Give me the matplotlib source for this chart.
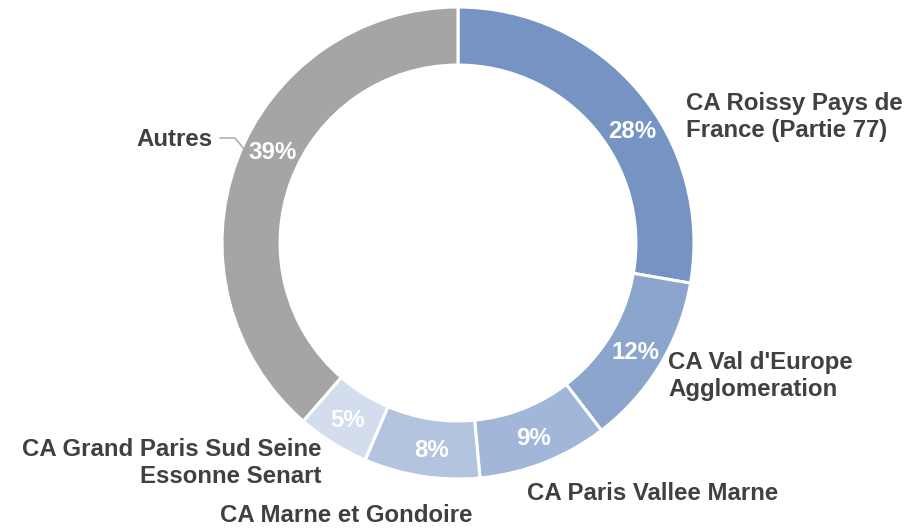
import matplotlib
matplotlib.use("Agg")
import matplotlib.pyplot as plt
import numpy as np

categories = ["CA Roissy Pays de\nFrance (Partie 77)", "CA Val d'Europe\nAgglomeration",
              "CA Paris Vallee Marne", "CA Marne et Gondoire",
              "CA Grand Paris Sud Seine\nEssonne Senart", "Autres"]
values = [28, 12, 9, 8, 5, 39]
pct_labels = ["28%", "12%", "9%", "8%", "5%", "39%"]
colors = ["#7694C3", "#8BA5CC", "#A1B6D8", "#B3C4DF", "#D3DDEE", "#A5A5A5"]

plt.rcParams['font.family'] = ['Liberation Sans', 'DejaVu Sans']

W, H = 924, 528
fig = plt.figure(figsize=(W / 100, H / 100), dpi=100)
ax = fig.add_axes([0, 0, 1, 1])

cx, cy, R = 458, H - 243, 236
wedges, _ = ax.pie(values, colors=colors, startangle=90, counterclock=False,
                   center=(cx, cy), radius=R, frame=True,
                   wedgeprops=dict(width=R * 0.246, edgecolor="white", linewidth=2.2))
ax.set_xlim(0, W)
ax.set_ylim(0, H)
ax.axis("off")

# percentage labels
angle_shift = [-7, 0, 0, 1.5, 0, -6]
for w, lab, sh in zip(wedges, pct_labels, angle_shift):
    mid = np.deg2rad((w.theta1 + w.theta2) / 2 + sh)
    r = R * 0.88
    ax.text(cx + r * np.cos(mid), cy + r * np.sin(mid) - 2, lab, color="white",
            fontsize=17.3, fontweight="bold", ha="center", va="center")

tc = "#404040"
fs = 17.3
ax.text(686, H - 117, categories[0], ha="left", va="center", color=tc, fontsize=fs,
        fontweight="bold", linespacing=1.2)
ax.text(668, H - 376, categories[1], ha="left", va="center", color=tc, fontsize=fs,
        fontweight="bold", linespacing=1.2)
ax.text(527, H - 494, categories[2], ha="left", va="center", color=tc, fontsize=fs,
        fontweight="bold")
ax.text(346, H - 516, categories[3], ha="center", va="center", color=tc, fontsize=fs,
        fontweight="bold")
ax.text(322, H - 463, categories[4], ha="right", va="center", color=tc, fontsize=fs,
        fontweight="bold", linespacing=1.2, multialignment="right")
ax.text(213, H - 139, categories[5], ha="right", va="center", color=tc, fontsize=fs,
        fontweight="bold")
ax.plot([220, 235, 244], [H - 138, H - 138, H - 149], color="#A5A5A5", lw=1.0)

fig.savefig("out.png", dpi=100, facecolor="white")
